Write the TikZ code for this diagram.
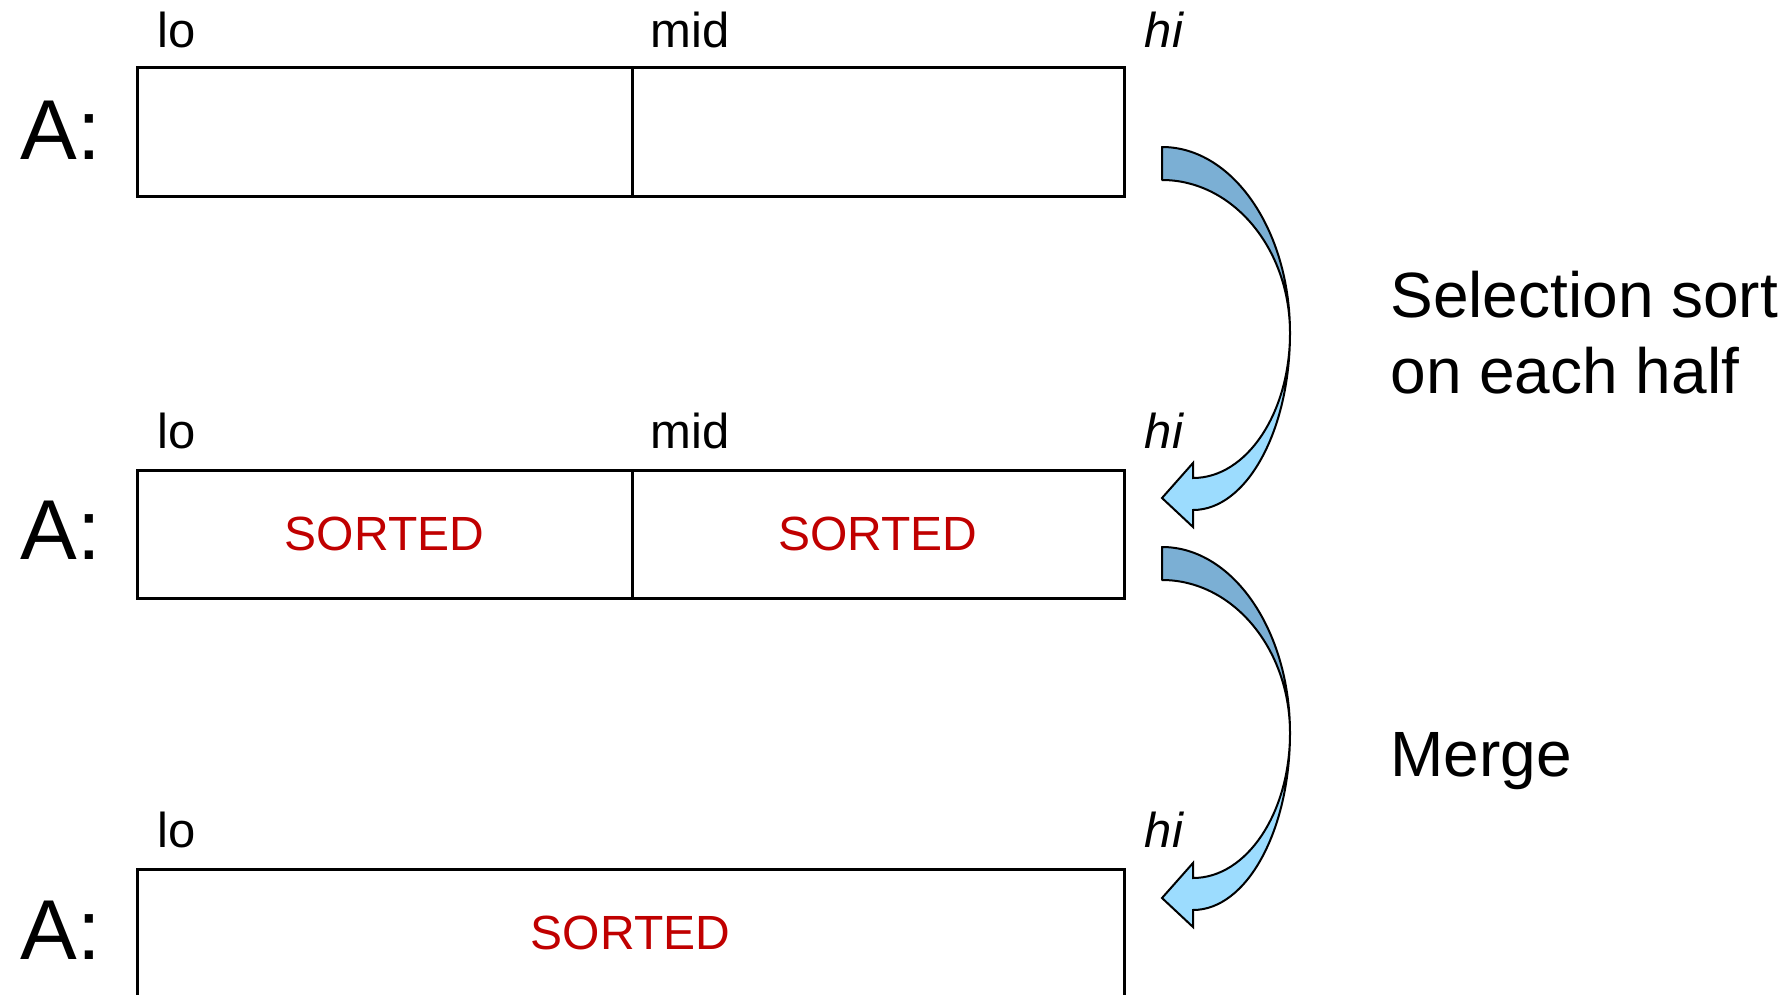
\documentclass[tikz,border=0pt]{standalone}
\usepackage{fontspec}
\setmainfont{Liberation Sans}
\definecolor{sortred}{HTML}{C00000}
\definecolor{arrowdark}{HTML}{7BAFD4}
\definecolor{arrowlight}{HTML}{9CDCFE}
\begin{document}
\begin{tikzpicture}[x=0.5pt,y=-0.5pt,
  cell/.style={draw=black, line width=1.5pt, minimum height=64pt, inner sep=0pt, outer sep=0pt,
    font=\fontsize{24}{29}\selectfont, text=sortred},
  alabel/.style={anchor=base west, inner sep=0pt, font=\fontsize{42.5}{51}\selectfont},
  idx/.style={anchor=base, inner sep=0pt, font=\fontsize{24.5}{29}\selectfont},
  note/.style={anchor=base west, inner sep=0pt, font=\fontsize{32}{38}\selectfont, align=left},
  arrowdk/.style={fill=arrowdark, draw=black, line width=1pt, line join=round},
  arrowlt/.style={fill=arrowlight, draw=black, line width=1pt, line join=miter},
  curvedarrow/.pic={
    \path[arrowlt] (1290,333) .. controls (1290,430.8) and (1246.6,510) .. (1193,510)
      -- (1193,527) -- (1162,498) -- (1193,463) -- (1193,478)
      .. controls (1246.6,478) and (1290,413.1) .. (1290,333) -- cycle;
    \path[arrowdk] (1162,147) .. controls (1232.7,147) and (1290,230.3) .. (1290,333)
      .. controls (1290,248.5) and (1232.7,180) .. (1162,180) -- cycle;
  }]
\useasboundingbox (0,0) rectangle (1788,995);
\clip (0,0) rectangle (1788,995);

% Row 1
\node[alabel] (a1) at (20,159) {A:};
\node[idx] (lo1) at (177,48) {lo};
\node[idx] (mid1) at (690,48) {mid};
\node[idx] (hi1) at (1164,48) {\itshape hi};
\node[cell, minimum width=247.5pt] (r1l) at (384.5,132) {};
\node[cell, minimum width=246pt] (r1r) at (878,132) {};

% Row 2
\node[alabel] (a2) at (20,559) {A:};
\node[idx] (lo2) at (177,448) {lo};
\node[idx] (mid2) at (690,448) {mid};
\node[idx] (hi2) at (1164,448) {\itshape hi};
\node[cell, minimum width=247.5pt] (r2l) at (384.5,534) {SORTED};
\node[cell, minimum width=246pt] (r2r) at (878,534) {SORTED};

% Row 3
\node[alabel] (a3) at (20,959) {A:};
\node[idx] (lo3) at (177,847) {lo};
\node[idx] (hi3) at (1164,847) {\itshape hi};
\node[cell, minimum width=493.5pt] (r3) at (630.5,933) {SORTED};

% Curved arrows
\pic (arr1) at (0,0) {curvedarrow};
\pic (arr2) at (0,400) {curvedarrow};

% Notes
\node[note] (n1) at (1390,393) {Selection sort\\on each half};
\node[note] (n2) at (1390,776) {Merge};
\end{tikzpicture}
\end{document}
